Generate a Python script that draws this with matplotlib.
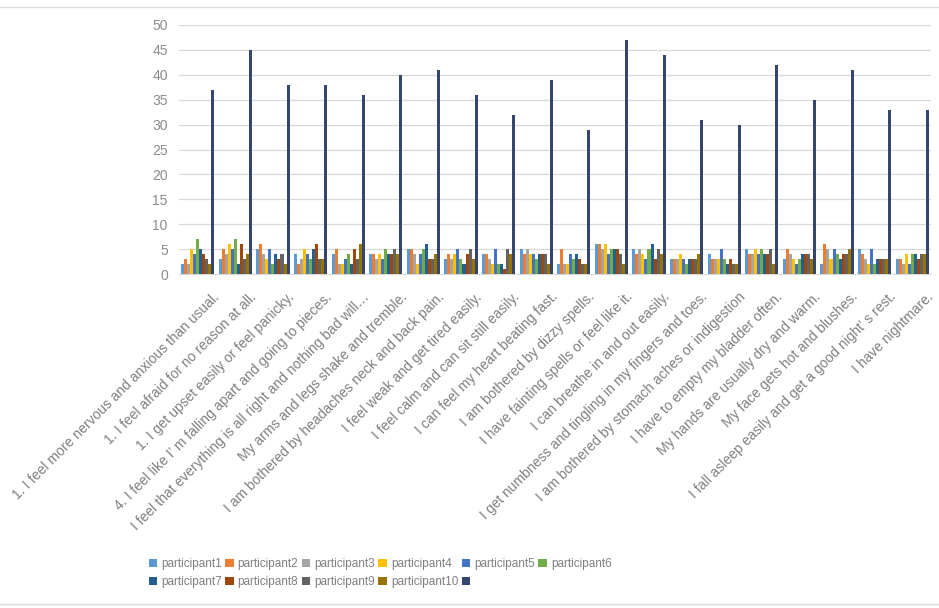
import numpy as np
import matplotlib.pyplot as plt
import matplotlib.transforms as mtransforms
from matplotlib.lines import Line2D

plt.rcParams['font.family'] = ['Liberation Sans', 'DejaVu Sans']

questions = [
    "1. I feel more nervous and anxious than usual.",
    "1. I feel afraid for no reason at all.",
    "1. I get upset easily or feel panicky.",
    "4. I feel like I’ m falling apart and going to pieces.",
    "I feel that everything is all right and nothing bad will…",
    "My arms and legs shake and tremble.",
    "I am bothered by headaches neck and back pain.",
    "I feel weak and get tired easily.",
    "I feel calm and can sit still easily.",
    "I can feel my heart beating fast.",
    "I am bothered by dizzy spells.",
    "I have fainting spells or feel like it.",
    "I can breathe in and out easily.",
    "I get numbness and tingling in my fingers and toes.",
    "I am bothered by stomach aches or indigestion",
    "I have to empty my bladder often.",
    "My hands are usually dry and warm.",
    "My face gets hot and blushes.",
    "I fall asleep easily and get a good night’ s rest.",
    "I have nightmare.",
]

participant1 = [2, 3, 5, 4, 4, 4, 5, 3, 4, 5, 2, 6, 5, 3, 4, 5, 3, 2, 5, 3]
participant2 = [3, 5, 6, 2, 5, 4, 5, 4, 4, 4, 5, 6, 4, 3, 3, 4, 5, 6, 4, 3]
participant3 = [2, 4, 4, 3, 2, 3, 4, 3, 3, 5, 2, 5, 5, 3, 3, 4, 4, 5, 3, 2]
participant4 = [5, 6, 3, 5, 2, 4, 2, 4, 2, 4, 2, 6, 4, 4, 3, 5, 3, 3, 2, 4]
participant5 = [4, 5, 5, 4, 3, 3, 4, 5, 5, 4, 4, 4, 3, 3, 5, 4, 2, 5, 5, 2]
participant6 = [7, 7, 2, 3, 4, 5, 5, 3, 2, 3, 3, 5, 5, 2, 3, 5, 3, 4, 2, 4]
participant7 = [5, 2, 4, 5, 2, 4, 6, 2, 2, 4, 4, 5, 6, 3, 2, 4, 4, 3, 3, 4]
participant8 = [4, 6, 3, 6, 5, 4, 3, 4, 1, 4, 3, 5, 3, 3, 3, 4, 4, 4, 3, 3]
participant9 = [3, 3, 4, 3, 3, 5, 3, 5, 5, 4, 2, 4, 5, 3, 2, 5, 4, 4, 3, 4]
participant10 = [2, 4, 2, 3, 6, 4, 4, 3, 4, 2, 2, 2, 4, 4, 2, 2, 3, 5, 3, 4]
totals = [37, 45, 38, 38, 36, 40, 41, 36, 32, 39, 29, 47, 44, 31, 30, 42, 35, 41, 33, 33]

series = [participant1, participant2, participant3, participant4, participant5,
          participant6, participant7, participant8, participant9, participant10, totals]
labels = ['participant%d' % (i + 1) for i in range(10)] + [' ']
colors = ['#5b9bd5', '#ed7d31', '#a5a5a5', '#ffc000', '#4472c4', '#70ad47',
          '#255e91', '#9e480e', '#636363', '#997300', '#34466e']

fig = plt.figure(figsize=(9.39, 6.08), dpi=100)
ax = fig.add_axes([0.1906, 0.5493, 0.8009, 0.4096])

x = np.arange(len(questions))
w = 0.08
handles = []
for i, (vals, lab, col) in enumerate(zip(series, labels, colors)):
    b = ax.bar(x - 0.44 + w * (i + 0.5), vals, w, color=col, label=lab, zorder=3)
    handles.append(b)

ax.set_xlim(-0.5, len(questions) - 0.5)
ax.set_ylim(0, 50)
ax.set_yticks(np.arange(0, 51, 5))
ax.yaxis.grid(True, color='#d9d9d9', linewidth=0.9, zorder=0)
for s in ['top', 'right', 'left']:
    ax.spines[s].set_visible(False)
ax.spines['bottom'].set_color('#d9d9d9')
ax.tick_params(axis='y', length=0, pad=8, labelsize=10, labelcolor='#8c8c8c')
ax.tick_params(axis='x', length=0, pad=15)

ax.set_xticks(x)
ax.set_xticklabels(questions, rotation=45, ha='right', va='center',
                   rotation_mode='anchor', fontsize=10, color='#7f7f7f')
offset = mtransforms.ScaledTranslation(0.19, 0, fig.dpi_scale_trans)
for t in ax.get_xticklabels():
    t.set_transform(t.get_transform() + offset)

# legend filled row by row
order = [0, 6, 1, 7, 2, 8, 3, 9, 4, 10, 5]
fig.legend([handles[i] for i in order], [labels[i] for i in order],
           loc='center left', bbox_to_anchor=(0.147, 0.057), ncol=6,
           frameon=False, fontsize=8.5, labelcolor='#7f7f7f',
           handlelength=0.7, handleheight=0.7, handletextpad=0.35,
           columnspacing=0.3, labelspacing=0.5)

fig.add_artist(Line2D([0, 1], [0.988, 0.988], color='#dddddd', linewidth=1))
fig.add_artist(Line2D([0, 1], [0.007, 0.007], color='#dddddd', linewidth=1))

fig.savefig('out.png', dpi=100)
